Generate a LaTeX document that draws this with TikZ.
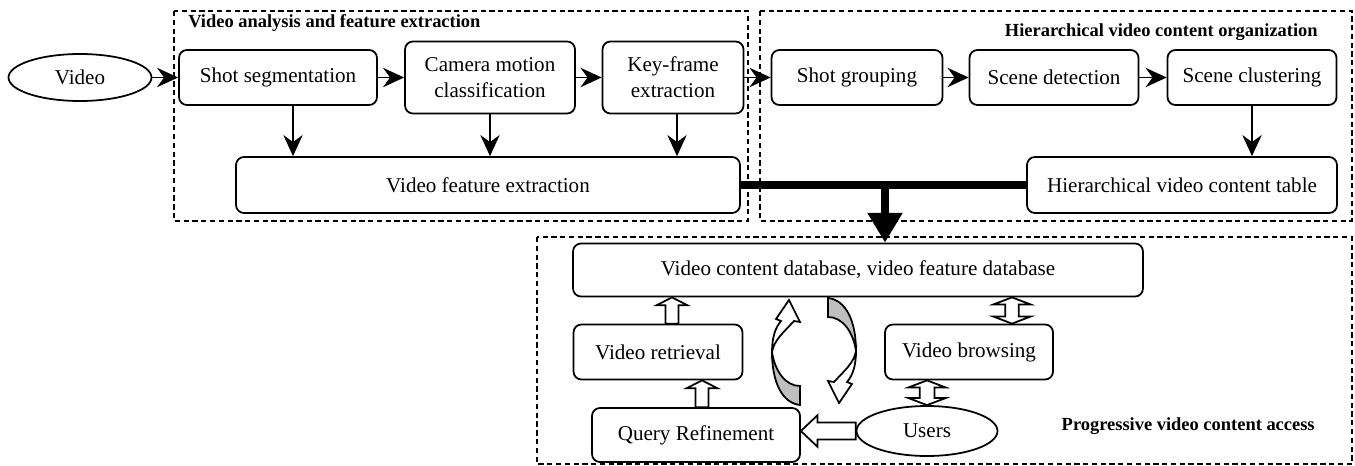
\documentclass[tikz,border=0pt]{standalone}
\usepackage{fontspec}
\setmainfont{Liberation Serif}
\usetikzlibrary{arrows.meta, positioning, calc, shapes.geometric}

% sizes of the open block arrows
\tikzset{
  ab shaft/.store in=\abshaft, ab shaft=3.7pt,
  ab head/.store in=\abhead, ab head=8.8pt,
  ab tip/.store in=\abtip, ab tip=4.5pt,
}

% twisted ribbon arrow, drawn round its centre
\tikzset{pics/turnarrow/.style={code={
  \draw[hollow, fill=black!25] (14,53) .. controls (-4,51) and (-14,30) .. (-14,0)
       .. controls (-11,20) and (0,34) .. (14,34) -- cycle;
  \draw[hollow] (-14,0) .. controls (-14,-14) and (-11,-24) .. (-5,-31) -- (-10,-33)
       -- (3,-52) -- (14,-30) -- (8,-31) .. controls (-2,-20) and (-12,-12) .. (-14,0) -- cycle;
}}}

\begin{document}
\begin{tikzpicture}[x=0.02cm, y=-0.02cm, >={Stealth[length=12pt, width=11pt, inset=4pt]},
    font=\fontsize{12}{15}\selectfont,
    block/.style={draw, rounded corners=4.5pt, line width=1pt, align=center, inner sep=2pt},
    oval/.style={draw, ellipse, line width=1pt, inner sep=0pt},
    groupbox/.style={draw, line width=0.7pt, dash pattern=on 3pt off 2pt},
    grouptitle/.style={font=\fontsize{10.5}{12}\selectfont\bfseries, inner sep=0pt},
    flow/.style={->, line width=1pt},
    hollow/.style={draw, fill=white, line width=1pt, line join=miter},
    onearrow/.style={hollow, to path={
      ($(\tikztostart)!\abshaft!90:(\tikztotarget)$)
      -- ($($(\tikztotarget)!\abtip!(\tikztostart)$)!\abshaft!90:(\tikztotarget)$)
      -- ($($(\tikztotarget)!\abtip!(\tikztostart)$)!\abhead!90:(\tikztotarget)$)
      -- (\tikztotarget)
      -- ($($(\tikztotarget)!\abtip!(\tikztostart)$)!\abhead!-90:(\tikztotarget)$)
      -- ($($(\tikztotarget)!\abtip!(\tikztostart)$)!\abshaft!-90:(\tikztotarget)$)
      -- ($(\tikztostart)!\abshaft!-90:(\tikztotarget)$) -- cycle}},
    twoarrow/.style={hollow, to path={
      (\tikztostart)
      -- ($($(\tikztostart)!\abtip!(\tikztotarget)$)!\abhead!90:(\tikztotarget)$)
      -- ($($(\tikztostart)!\abtip!(\tikztotarget)$)!\abshaft!90:(\tikztotarget)$)
      -- ($($(\tikztotarget)!\abtip!(\tikztostart)$)!\abshaft!90:(\tikztotarget)$)
      -- ($($(\tikztotarget)!\abtip!(\tikztostart)$)!\abhead!90:(\tikztotarget)$)
      -- (\tikztotarget)
      -- ($($(\tikztotarget)!\abtip!(\tikztostart)$)!\abhead!-90:(\tikztotarget)$)
      -- ($($(\tikztotarget)!\abtip!(\tikztostart)$)!\abshaft!-90:(\tikztotarget)$)
      -- ($($(\tikztostart)!\abtip!(\tikztotarget)$)!\abshaft!-90:(\tikztotarget)$)
      -- ($($(\tikztostart)!\abtip!(\tikztotarget)$)!\abhead!-90:(\tikztotarget)$) -- cycle}},
  ]
  \useasboundingbox (0,0) rectangle (1355,466);

  % group frames
  \draw[groupbox] (174,11) rectangle (748,221);
  \draw[groupbox] (760,11) rectangle (1352,221);
  \draw[groupbox] (537,237) rectangle (1352,464);
  \node[grouptitle, anchor=base west] (tanalysis) at (188,28) {Video analysis and feature extraction};
  \node[grouptitle, anchor=base east] (torganize) at (1318,37) {Hierarchical video content organization};
  \node[grouptitle, anchor=base east] (taccess) at (1315,430) {Progressive video content access};

  % analysis and organization
  \node[oval, minimum width=2.86cm, minimum height=0.94cm] (video) at (80,77.5) {Video};
  \node[block, minimum width=3.96cm, minimum height=1.1cm] (shotseg) at (278,77.5) {Shot segmentation};
  \node[block, minimum width=3.4cm, minimum height=1.44cm] (camera) at (490,77.5) {Camera motion\\classification};
  \node[block, minimum width=2.82cm, minimum height=1.44cm] (keyframe) at (673,77.5) {Key-frame\\extraction};
  \node[block, minimum width=3.42cm, minimum height=1.1cm] (grouping) at (857,77.5) {Shot grouping};
  \node[block, minimum width=3.38cm, minimum height=1.1cm] (detect) at (1054,77.5) {Scene detection};
  \node[block, minimum width=3.38cm, minimum height=1.1cm] (cluster) at (1252,77.5) {Scene clustering};
  \node[block, minimum width=10.08cm, minimum height=1.12cm] (featext) at (488,185) {Video feature extraction};
  \node[block, minimum width=6.2cm, minimum height=1.12cm] (table) at (1182,185) {Hierarchical video content table};

  \draw[flow] (video) -- (shotseg);
  \draw[flow] (shotseg) -- (camera);
  \draw[flow] (camera) -- (keyframe);
  \draw[flow] (keyframe) -- (grouping);
  \draw[flow] (grouping) -- (detect);
  \draw[flow] (detect) -- (cluster);
  \draw[flow] ([xshift=0.3cm]shotseg.south) -- ([xshift=0.3cm]shotseg.south |- featext.north);
  \draw[flow] (camera) -- (camera |- featext.north);
  \draw[flow] ([xshift=0.08cm]keyframe.south) -- ([xshift=0.08cm]keyframe.south |- featext.north);
  \draw[flow] (cluster) -- (cluster |- table.north);

  % access
  \node[block, minimum width=11.4cm, minimum height=1.06cm] (db) at (858,270) {Video content database, video feature database};
  \node[block, minimum width=3.38cm, minimum height=1.1cm] (retrieval) at (658,352) {Video retrieval};
  \node[block, minimum width=3.36cm, minimum height=1.1cm] (browsing) at (969,352) {Video browsing};
  \node[block, minimum width=4.16cm, minimum height=1.08cm] (query) at (696,435) {Query Refinement};
  \node[oval, minimum width=2.82cm, minimum height=1.0cm] (users) at (927,431) {Users};

  % both results go into the database
  \draw[line width=4pt] (featext) -- (table);
  \coordinate (merge) at (885,185);
  \draw[line width=4.5pt, -{Triangle[length=17pt, width=19pt]}] (merge) -- (merge |- db.north);

  \draw[onearrow] ([xshift=0.28cm]retrieval.north) to ([xshift=0.28cm]retrieval.north |- db.south);
  \draw[onearrow] ([xshift=0.12cm]query.north) to ([xshift=0.12cm]query.north |- retrieval.south);
  \draw[twoarrow, ab head=10.5pt, ab shaft=3.9pt, ab tip=4pt] ([xshift=0.86cm]browsing.north) to ([xshift=0.86cm]browsing.north |- db.south);
  \draw[twoarrow, ab head=10.5pt, ab shaft=4.2pt, ab tip=4pt] (users.north) to (users.north |- browsing.south);
  \draw[onearrow, ab shaft=4.8pt, ab head=9pt, ab tip=9.5pt] (users.west) to (users.west -| query.east);

  \pic at (786,352) {turnarrow};
  \pic[rotate=180] at (842,351) {turnarrow};
\end{tikzpicture}
\end{document}
